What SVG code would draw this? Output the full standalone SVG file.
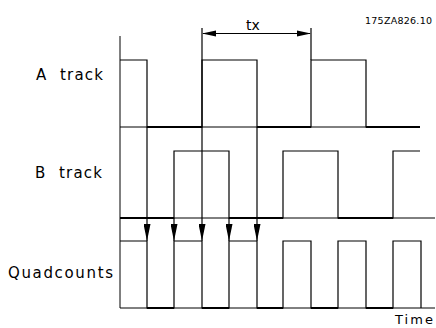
<svg xmlns="http://www.w3.org/2000/svg" width="436" height="328" viewBox="0 0 436 328">
<style>
.lbl{font-family:"DejaVu Sans","Liberation Sans",Arial,sans-serif;fill:#000}
.thin{fill:none;stroke:#000;stroke-width:1}
.sig{fill:none;stroke:#000;stroke-width:1.2}
.low{fill:none;stroke:#000;stroke-width:2}
.ar{fill:#000;stroke:none}
</style>
<defs>
<marker id="dn" markerWidth="17" markerHeight="7" refX="17" refY="3.5" orient="auto" markerUnits="userSpaceOnUse" viewBox="0 0 17 7">
<path d="M0,0 L17,3.5 L0,7 Z" fill="#000"/>
</marker>
</defs>
<rect width="436" height="328" fill="#fff"/>
<g id="labels">
<text class="lbl" y="80" font-size="15"><tspan x="36">A </tspan><tspan x="60" textLength="43" lengthAdjust="spacing">track</tspan></text>
<text class="lbl" y="178" font-size="15"><tspan x="35">B </tspan><tspan x="59" textLength="43" lengthAdjust="spacing">track</tspan></text>
<text class="lbl" x="8" y="278" font-size="15" textLength="105" lengthAdjust="spacing">Quadcounts</text>
<text class="lbl" x="395" y="324" font-size="13" textLength="38" lengthAdjust="spacing">Time</text>
<text class="lbl" x="246" y="30" font-size="14">tx</text>
<text class="lbl" x="365" y="24" font-size="9.5" textLength="67" lengthAdjust="spacing">175ZA826.10</text>
</g>
<g id="axes">
<line class="thin" x1="120" y1="36" x2="120" y2="308"/>
<line class="thin" x1="120" y1="127" x2="420" y2="127"/>
<line class="thin" x1="120" y1="218" x2="435" y2="218"/>
<line class="thin" x1="120" y1="308" x2="435" y2="308"/>
</g>
<g id="a-track">
<polyline class="sig" points="120,60 147,60 147,127 202,127 202,60 257,60 257,127 311,127 311,60 366,60 366,127 420,127"/>
<line class="low" x1="147" y1="127" x2="202" y2="127"/>
<line class="low" x1="257" y1="127" x2="311" y2="127"/>
<line class="low" x1="366" y1="127" x2="420" y2="127"/>
</g>
<g id="b-track">
<polyline class="sig" points="120,218 174,218 174,151 229,151 229,218 283,218 283,151 338,151 338,218 393,218 393,151 420,151"/>
<line class="low" x1="120" y1="218" x2="174" y2="218"/>
<line class="low" x1="229" y1="218" x2="283" y2="218"/>
<line class="low" x1="338" y1="218" x2="393" y2="218"/>
</g>
<g id="quadcounts">
<polyline class="sig" points="120,241 147,241 147,308 174,308 174,241 202,241 202,308 229,308 229,241 257,241 257,308 283,308 283,241 311,241 311,308 338,308 338,241 366,241 366,308 393,308 393,241 421,241 421,308"/>
<line class="low" x1="147" y1="308" x2="174" y2="308"/>
<line class="low" x1="202" y1="308" x2="229" y2="308"/>
<line class="low" x1="257" y1="308" x2="283" y2="308"/>
<line class="low" x1="311" y1="308" x2="338" y2="308"/>
<line class="low" x1="366" y1="308" x2="393" y2="308"/>
</g>
<g id="connectors">
<line class="sig" x1="147" y1="127" x2="147" y2="241" marker-end="url(#dn)"/>
<line class="sig" x1="174" y1="218" x2="174" y2="241" marker-end="url(#dn)"/>
<line class="sig" x1="202" y1="28" x2="202" y2="241" marker-end="url(#dn)"/>
<line class="sig" x1="229" y1="218" x2="229" y2="241" marker-end="url(#dn)"/>
<line class="sig" x1="257" y1="127" x2="257" y2="241" marker-end="url(#dn)"/>
<line class="sig" x1="311" y1="28" x2="311" y2="60"/>
<line class="thin" x1="203" y1="33.5" x2="310" y2="33.5"/>
<path class="ar" d="M202,33.5 L216,30.5 L216,36.5 Z"/>
<path class="ar" d="M311,33.5 L297,30.5 L297,36.5 Z"/>
</g>
</svg>
